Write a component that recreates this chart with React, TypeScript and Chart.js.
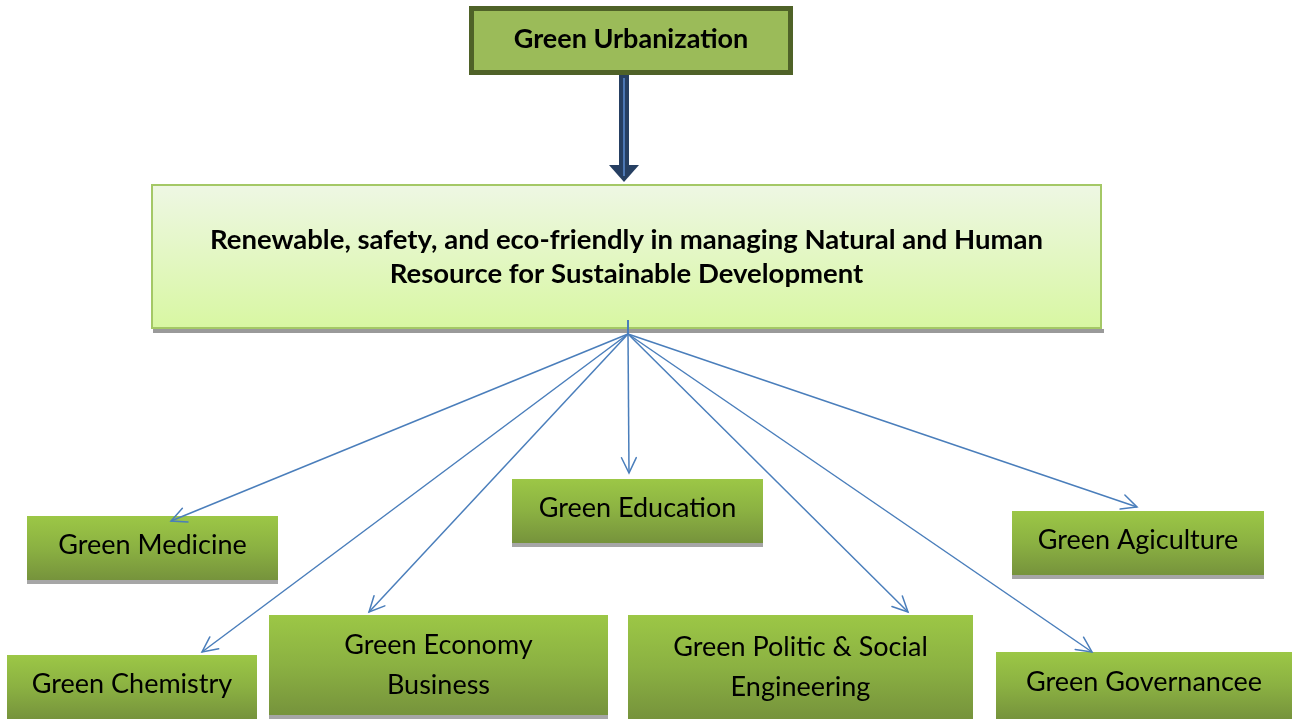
import React, { useEffect, useRef } from "react";
import { Chart, registerables } from "chart.js";

Chart.register(...registerables);

// ---- Diagram data (data units = a 1292 x 719 plane) ----
const nodeLabels = [
  "Green Urbanization",
  "Renewable, safety, and eco-friendly in managing Natural and Human\nResource for Sustainable Development",
  "Green Medicine",
  "Green Education",
  "Green Agiculture",
  "Green Chemistry",
  "Green Economy\nBusiness",
  "Green Politic & Social\nEngineering",
  "Green Governancee",
];
const nodeKinds = ["root", "hub", "leaf", "leaf", "leaf", "leaf", "leaf", "leaf", "leaf"];
const nodeLeft = [469, 151, 27, 512, 1012, 7, 269, 628, 996];
const nodeRight = [793, 1102, 278, 763, 1264, 257, 608, 973, 1292];
const nodeTop = [6, 184, 516, 479, 511, 655, 615, 615, 652];
const nodeBottom = [75, 329, 580, 543, 575, 719, 715, 719, 719];

const mainArrowFrom = { x: 624, y: 75 };
const mainArrowTo = { x: 624, y: 182 };

const hubPoint = { x: 628, y: 334 };
const hubStemTop = { x: 628, y: 320 };
const arrowTipX = [171, 629, 1137, 202, 369, 908, 1092];
const arrowTipY = [521, 473, 507, 652, 612, 612, 652];

const FONT = "Lato, 'Open Sans', sans-serif";

function drawText(ctx: CanvasRenderingContext2D, label: string, cx: number, cy: number, font: string, gap: number) {
  const lines = label.split("\n");
  ctx.font = font;
  ctx.fillStyle = "#000";
  ctx.textAlign = "center";
  ctx.textBaseline = "middle";
  const start = cy - ((lines.length - 1) * gap) / 2;
  lines.forEach((l, i) => ctx.fillText(l, cx, start + i * gap));
}

const diagramPlugin = {
  id: "diagram",
  beforeDatasetsDraw(chart: any) {
    const ctx: CanvasRenderingContext2D = chart.ctx;
    const xs = chart.scales.x;
    const ys = chart.scales.y;
    ctx.save();
    nodeLabels.forEach((label, i) => {
      const l = xs.getPixelForValue(nodeLeft[i]);
      const r = xs.getPixelForValue(nodeRight[i]);
      const t = ys.getPixelForValue(nodeTop[i]);
      const b = ys.getPixelForValue(nodeBottom[i]);
      const w = r - l;
      const h = b - t;
      const kind = nodeKinds[i];
      if (kind === "root") {
        ctx.fillStyle = "#4f6228";
        ctx.fillRect(l, t, w, h);
        ctx.fillStyle = "#9bbb59";
        ctx.fillRect(l + 5, t + 5, w - 10, h - 10);
        drawText(ctx, label, (l + r) / 2, (t + b) / 2 - 1, `bold 27px ${FONT}`, 34);
      } else if (kind === "hub") {
        ctx.fillStyle = "#9a9a9a";
        ctx.fillRect(l + 2, b, w, 4);
        const g = ctx.createLinearGradient(0, t, 0, b);
        g.addColorStop(0, "#eef7e4");
        g.addColorStop(1, "#d8f7a2");
        ctx.fillStyle = g;
        ctx.fillRect(l, t, w, h);
        ctx.strokeStyle = "#a4c866";
        ctx.lineWidth = 2;
        ctx.strokeRect(l + 1, t + 1, w - 2, h - 2);
        drawText(ctx, label, (l + r) / 2, (t + b) / 2 + 1, `bold 27.5px ${FONT}`, 34);
      } else {
        ctx.fillStyle = "#a6a6a6";
        ctx.fillRect(l, b - 1, w, 5);
        const g = ctx.createLinearGradient(0, t, 0, b);
        g.addColorStop(0, "#9cc746");
        g.addColorStop(0.5, "#8bb142");
        g.addColorStop(1, "#76933c");
        ctx.fillStyle = g;
        ctx.fillRect(l, t, w, h);
        const multi = label.includes("\n");
        drawText(ctx, label, (l + r) / 2, (t + b) / 2 - (multi ? 0 : 3), `27px ${FONT}`, 40);
      }
    });

    // main block arrow
    const ax = xs.getPixelForValue(mainArrowFrom.x);
    const ay0 = ys.getPixelForValue(mainArrowFrom.y);
    const ay1 = ys.getPixelForValue(mainArrowTo.y);
    const headH = 17;
    ctx.fillStyle = "#263f62";
    ctx.fillRect(ax - 5, ay0, 10, ay1 - headH - ay0);
    ctx.beginPath();
    ctx.moveTo(ax - 15, ay1 - headH);
    ctx.lineTo(ax + 15, ay1 - headH);
    ctx.lineTo(ax, ay1);
    ctx.closePath();
    ctx.fill();
    ctx.strokeStyle = "#5a8bd0";
    ctx.lineWidth = 1.5;
    ctx.beginPath();
    ctx.moveTo(ax, ay0 + 3);
    ctx.lineTo(ax, ay1 - 6);
    ctx.stroke();
    ctx.restore();
  },
  afterDatasetsDraw(chart: any) {
    const ctx: CanvasRenderingContext2D = chart.ctx;
    const xs = chart.scales.x;
    const ys = chart.scales.y;
    const hx = xs.getPixelForValue(hubPoint.x);
    const hy = ys.getPixelForValue(hubPoint.y);
    ctx.save();
    ctx.strokeStyle = "#4a7ebb";
    ctx.lineWidth = 1.5;
    ctx.lineCap = "round";
    arrowTipX.forEach((tx0, i) => {
      const tx = xs.getPixelForValue(tx0);
      const ty = ys.getPixelForValue(arrowTipY[i]);
      const ang = Math.atan2(ty - hy, tx - hx);
      const len = 17;
      const spread = 0.45;
      ctx.beginPath();
      ctx.moveTo(tx - len * Math.cos(ang - spread), ty - len * Math.sin(ang - spread));
      ctx.lineTo(tx, ty);
      ctx.lineTo(tx - len * Math.cos(ang + spread), ty - len * Math.sin(ang + spread));
      ctx.stroke();
    });
    ctx.restore();
  },
};

export default function App() {
  const ref = useRef<HTMLCanvasElement>(null);
  useEffect(() => {
    if (!ref.current) return;
    const arrowSets = arrowTipX.map((tx, i) => ({
      type: "scatter" as const,
      data: [
        { x: hubPoint.x, y: hubPoint.y },
        { x: tx, y: arrowTipY[i] },
      ],
      showLine: true,
      borderColor: "#4a7ebb",
      borderWidth: 1.5,
      pointRadius: 0,
    }));
    const stem = {
      type: "scatter" as const,
      data: [hubStemTop, hubPoint],
      showLine: true,
      borderColor: "#4a7ebb",
      borderWidth: 2,
      pointRadius: 0,
    };
    const chart = new Chart(ref.current, {
      type: "scatter",
      data: { datasets: [stem, ...arrowSets] as any },
      options: {
        responsive: false,
        animation: false,
        layout: { padding: 0 },
        scales: {
          x: { type: "linear", min: 0, max: 1292, display: false },
          y: { type: "linear", min: 0, max: 719, reverse: true, display: false },
        },
        plugins: { legend: { display: false }, tooltip: { enabled: false } },
        events: [],
      },
      plugins: [diagramPlugin],
    });
    return () => chart.destroy();
  }, []);
  return (
    <div style={{ position: "fixed", left: 0, top: 0, width: 1292, height: 719, background: "#fff" }}>
      <canvas ref={ref} width={1292} height={719} style={{ display: "block" }} />
    </div>
  );
}
